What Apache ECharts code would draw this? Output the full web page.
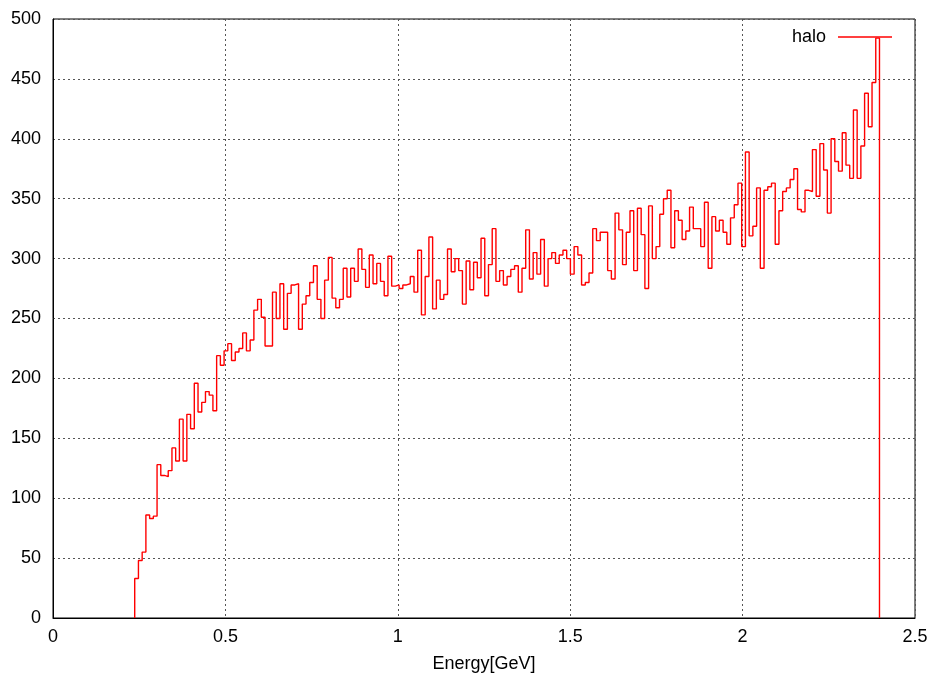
<!DOCTYPE html>
<html>
<head>
<meta charset="utf-8">
<title>halo energy spectrum</title>
<script src="https://cdn.jsdelivr.net/npm/echarts@6/dist/echarts.min.js"></script>
<style>
  html, body { margin: 0; padding: 0; background: #fff; }
  #chart { width: 935px; height: 683px; }
</style>
</head>
<body>
<div id="chart"></div>
<script>
// Histogram of the halo energy: 200 equal-width bins
const seriesName = 'halo';
const binStart = 0.237;   // GeV, lower edge of the first bin
const binWidth = 0.0108;  // GeV
const counts = [
  33, 48, 55, 86, 83, 85, 128, 119, 118, 123,
  142, 131, 166, 131, 170, 158, 196, 172, 180, 189,
  186, 173, 219, 211, 223, 229, 215, 222, 225, 238,
  223, 232, 257, 266, 251, 227, 227, 272, 250, 279,
  241, 271, 278, 279, 241, 262, 269, 280, 294, 266,
  250, 282, 301, 267, 259, 266, 292, 268, 292, 281,
  308, 291, 276, 303, 279, 296, 281, 269, 302, 277,
  278, 275, 278, 279, 285, 272, 307, 253, 285, 318,
  258, 282, 266, 270, 308, 289, 300, 290, 262, 298,
  274, 297, 284, 317, 269, 295, 325, 281, 290, 278,
  285, 291, 294, 272, 292, 324, 283, 305, 287, 316,
  277, 300, 305, 296, 303, 307, 300, 287, 310, 303,
  278, 280, 288, 325, 315, 322, 322, 290, 283, 338,
  324, 295, 322, 340, 290, 342, 320, 275, 344, 300,
  310, 337, 350, 357, 309, 340, 332, 316, 323, 343,
  325, 325, 310, 347, 292, 335, 323, 332, 322, 312,
  334, 345, 363, 310, 389, 319, 327, 359, 292, 357,
  360, 363, 312, 340, 356, 359, 366, 375, 341, 339,
  357, 356, 391, 352, 396, 374, 338, 400, 381, 373,
  405, 378, 367, 424, 367, 394, 438, 410, 447, 484
];

const xRange = [0, 2.5, 0.5];   // min, max, tick step
const yRange = [0, 500, 50];
const xTitle = 'Energy[GeV]';

// Step outline: rise from zero at the first edge, one point per bin at its
// lower edge, and fall back to zero at the upper edge of the last bin.
const stepPoints = [[binStart, 0]];
counts.forEach((c, i) => stepPoints.push([binStart + i * binWidth, c]));
stepPoints.push([binStart + counts.length * binWidth, 0]);

const font = 'Liberation Sans, Arial, Helvetica, sans-serif';
const gridLine = { show: true, lineStyle: { color: '#555', width: 1, type: [2, 3] } };

const chart = echarts.init(document.getElementById('chart'), null, { renderer: 'canvas' });
chart.setOption({
  animation: false,
  backgroundColor: '#fff',
  grid: {
    left: 53, right: 20, top: 19, bottom: 65,
    show: true, borderColor: '#000', borderWidth: 1, containLabel: false
  },
  legend: {
    data: [{ name: seriesName, icon: 'rect' }],
    right: 38, top: 23,
    align: 'right',
    itemWidth: 54, itemHeight: 1.4,
    textStyle: { fontFamily: font, fontSize: 18, color: '#000', padding: [0, 7, 0, 0] },
    selectedMode: false
  },
  xAxis: {
    type: 'value',
    min: xRange[0], max: xRange[1], interval: xRange[2],
    name: xTitle, nameLocation: 'middle', nameGap: 37,
    nameTextStyle: { fontFamily: font, fontSize: 18, color: '#000' },
    axisLine: { show: true, lineStyle: { color: '#000', width: 1 } },
    axisTick: { show: false },
    axisLabel: { fontFamily: font, fontSize: 18, color: '#000', margin: 10 },
    splitLine: gridLine
  },
  yAxis: {
    type: 'value',
    min: yRange[0], max: yRange[1], interval: yRange[2],
    axisLine: { show: true, lineStyle: { color: '#000', width: 1 } },
    axisTick: { show: false },
    axisLabel: { fontFamily: font, fontSize: 18, color: '#000', margin: 12 },
    splitLine: gridLine
  },
  series: [{
    name: seriesName,
    type: 'line',
    step: 'end',
    data: stepPoints,
    showSymbol: false,
    symbol: 'none',
    color: '#ff0000',
    lineStyle: { color: '#ff0000', width: 1.4 },
    z: 3
  }]
});
</script>
</body>
</html>
